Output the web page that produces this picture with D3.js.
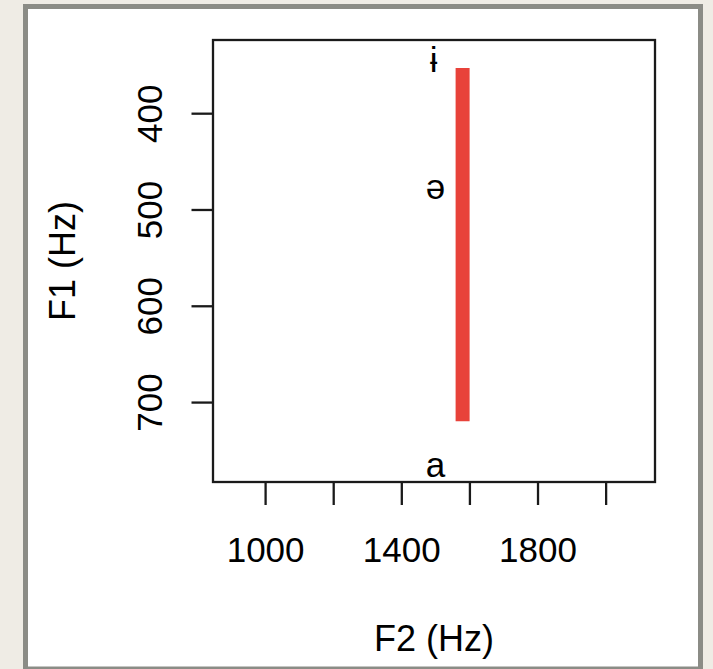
<!DOCTYPE html>
<html>
<head>
<meta charset="utf-8">
<script src="https://cdn.jsdelivr.net/npm/d3@7"></script>
<style>
  html, body { margin: 0; padding: 0; background: #efece5; }
  svg { display: block; }
  text { font-family: "Liberation Sans", Arial, Helvetica, sans-serif; fill: #000; }
</style>
</head>
<body>
<svg id="chart" width="713" height="669"></svg>
<script>
// vowel labels (F2, F1 in Hz)
var vowels = ["ɨ", "ə", "a"];
var vowelF2 = [1495, 1500, 1500];
var vowelF1 = [345, 476, 765];

// red range bar
var barF2 = [1580];
var barF1Start = [353];
var barF1End = [720];

// ticks
var xTicks = [1000, 1200, 1400, 1600, 1800, 2000];
var xTickLabels = [1000, 1400, 1800];
var yTicks = [400, 500, 600, 700];

var svg = d3.select("#chart");

// panel frame
svg.append("rect")
	.attr("x", 25.5).attr("y", 6.5)
	.attr("width", 675).attr("height", 662.5)
	.attr("fill", "#fff")
	.attr("stroke", "#8b8c86")
	.attr("stroke-width", 5);

var plot = { left: 213, right: 655, top: 40, bottom: 482 };

var x = d3.scaleLinear().domain([847, 2145]).range([plot.left, plot.right]);
var y = d3.scaleLinear().domain([324, 783]).range([plot.top, plot.bottom]);

// x axis
var xAxis = svg.append("g")
	.attr("transform", "translate(0," + plot.bottom + ")")
	.call(d3.axisBottom(x)
		.tickValues(xTicks)
		.tickSize(23)
		.tickSizeOuter(0)
		.tickPadding(32)
		.tickFormat(function(d) { return xTickLabels.indexOf(d) >= 0 ? d : ""; }));
xAxis.select(".domain").remove();
xAxis.selectAll(".tick line").attr("stroke", "#1a1a1a").attr("stroke-width", 2.3);
xAxis.selectAll(".tick text")
	.attr("font-size", 35)
	.style("font-family", "'Liberation Sans', Arial, sans-serif")
	.attr("fill", "#000");

// y axis, labels turned sideways
var yAxis = svg.append("g")
	.attr("transform", "translate(" + plot.left + ",0)")
	.call(d3.axisLeft(y)
		.tickValues(yTicks)
		.tickSize(21.5)
		.tickSizeOuter(0));
yAxis.select(".domain").remove();
yAxis.selectAll(".tick line").attr("stroke", "#1a1a1a").attr("stroke-width", 2.3);
yAxis.selectAll(".tick text")
	.attr("x", 0)
	.attr("dy", 0)
	.attr("text-anchor", "middle")
	.attr("transform", "translate(-51,0) rotate(-90)")
	.attr("font-size", 35)
	.style("font-family", "'Liberation Sans', Arial, sans-serif")
	.attr("fill", "#000");

// red bar
svg.selectAll("line.bar")
	.data(barF2)
	.enter()
	.append("line")
	.attr("class", "bar")
	.attr("x1", function(d) { return x(d); })
	.attr("x2", function(d) { return x(d); })
	.attr("y1", function(d, i) { return y(barF1Start[i]); })
	.attr("y2", function(d, i) { return y(barF1End[i]); })
	.attr("stroke", "#e8423a")
	.attr("stroke-width", 14)
	.attr("stroke-linecap", "butt");

// vowel symbols
svg.selectAll("text.vowel")
	.data(vowels)
	.enter()
	.append("text")
	.attr("class", "vowel")
	.attr("x", function(d, i) { return x(vowelF2[i]); })
	.attr("y", function(d, i) { return y(vowelF1[i]); })
	.attr("dy", "0.35em")
	.attr("text-anchor", "middle")
	.attr("font-size", 35)
	.text(function(d) { return d; });

// plot box
svg.append("rect")
	.attr("x", plot.left).attr("y", plot.top)
	.attr("width", plot.right - plot.left)
	.attr("height", plot.bottom - plot.top)
	.attr("fill", "none")
	.attr("stroke", "#1a1a1a")
	.attr("stroke-width", 2.3);

// axis titles
svg.append("text")
	.attr("x", (plot.left + plot.right) / 2)
	.attr("y", 651)
	.attr("text-anchor", "middle")
	.attr("font-size", 36)
	.text("F2 (Hz)");

svg.append("text")
	.attr("transform", "translate(75," + (plot.top + plot.bottom) / 2 + ") rotate(-90)")
	.attr("text-anchor", "middle")
	.attr("font-size", 36)
	.text("F1 (Hz)");
</script>
</body>
</html>
